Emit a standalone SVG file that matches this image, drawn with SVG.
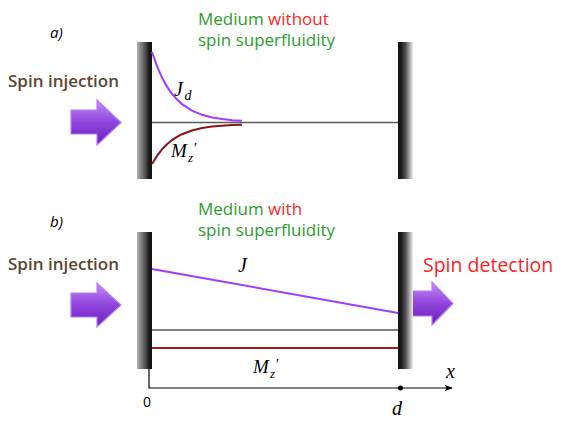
<svg xmlns="http://www.w3.org/2000/svg" width="582" height="441" viewBox="0 0 582 441">
<defs>
<linearGradient id="wallL" x1="0" y1="0" x2="1" y2="0">
<stop offset="0" stop-color="#b0b0b0"/><stop offset="0.55" stop-color="#505050"/><stop offset="0.8" stop-color="#1a1a1a"/><stop offset="1" stop-color="#111"/>
</linearGradient>
<linearGradient id="wallR" x1="0" y1="0" x2="1" y2="0">
<stop offset="0" stop-color="#111"/><stop offset="0.2" stop-color="#1a1a1a"/><stop offset="0.5" stop-color="#505050"/><stop offset="1" stop-color="#f0f0f0"/>
</linearGradient>
<linearGradient id="arr" x1="0" y1="0" x2="0" y2="1">
<stop offset="0" stop-color="#c28cf5"/><stop offset="0.5" stop-color="#8f45dd"/><stop offset="1" stop-color="#6a1fb8"/>
</linearGradient>
<marker id="ah" viewBox="0 0 10 10" refX="9" refY="5" markerWidth="8" markerHeight="8" markerUnits="userSpaceOnUse" orient="auto">
<path d="M0,1 L10,5 L0,9 L2,5 Z" fill="#000"/>
</marker>
</defs>
<style>
.sans{font-family:"Open Sans","Liberation Sans",sans-serif}
.green{fill:#2a9e2a}
.red{fill:#ff1f1f}
.inj{fill:#5b4631;font-weight:600;font-size:17px}
.math{font-family:"Liberation Serif","DejaVu Serif",serif;font-style:italic;fill:#000}
.arrow{fill:url(#arr);stroke:#b57cff;stroke-width:1.2}
.base{stroke:#5a5a5a;stroke-width:1.3;fill:none}
</style>

<g id="labels">
<text x="50" y="38" class="sans" font-size="15" font-style="italic">a)</text>
<text x="50" y="227" class="sans" font-size="15" font-style="italic">b)</text>
</g>

<g id="panel-a">
<g id="title-a" class="sans" font-size="17">
<text x="198" y="25"><tspan class="green">Medium </tspan><tspan class="red">without</tspan></text>
<text x="198" y="46" class="green">spin superfluidity</text>
</g>
<g id="inj-a">
<text x="8" y="87" class="sans inj">Spin injection</text>
<polygon class="arrow" points="71,110 97,110 97,100 121,122.5 97,145 97,134 71,134"/>
</g>
<g id="wall-a-left"><rect x="137" y="42" width="15" height="137" fill="url(#wallL)"/></g>
<g id="wall-a-right"><rect x="398" y="42" width="15" height="137" fill="url(#wallR)"/></g>
<g id="curves-a">
<line class="base" x1="152" y1="122.5" x2="398" y2="122.5"/>
<polyline fill="none" stroke="#a03cff" stroke-width="2" points="152,52 157,66.2 162,77.6 167,86.6 172,93.8 177,99.5 182,104.1 192,110.6 202,114.8 212,117.4 222,119.1 232,120.2 242,120.8"/>
<polyline fill="none" stroke="#8b1515" stroke-width="2" points="152,164 157,155.9 162,149.4 167,144.2 172,140.1 177,136.8 182,134.2 192,130.5 202,128.1 212,126.6 222,125.7 232,125.1 242,124.7"/>
<text x="174" y="96" class="math" font-size="20">J</text>
<text x="184.5" y="100" class="math" font-size="14">d</text>
<text x="171" y="157" class="math" font-size="19">M</text>
<text x="193" y="153" class="math" font-size="15">′</text>
<text x="188" y="162" class="math" font-size="13">z</text>
</g>
</g>

<g id="panel-b">
<g id="title-b" class="sans" font-size="17">
<text x="198" y="215"><tspan class="green">Medium </tspan><tspan class="red">with</tspan></text>
<text x="198" y="236" class="green">spin superfluidity</text>
</g>
<g id="inj-b">
<text x="8" y="270" class="sans inj">Spin injection</text>
<polygon class="arrow" points="71,293 97,293 97,283 121,305 97,327 97,317 71,317"/>
</g>
<g id="det-b">
<text x="423" y="272" class="sans red" font-size="19.5">Spin detection</text>
<polygon class="arrow" points="405,291 432,291 432,282 453,303.5 432,325 432,316 405,316"/>
</g>
<g id="wall-b-left"><rect x="137" y="232" width="15" height="137" fill="url(#wallL)"/></g>
<g id="wall-b-right"><rect x="398" y="232" width="15" height="137" fill="url(#wallR)"/></g>
<g id="curves-b">
<line x1="152" y1="269" x2="398" y2="313" stroke="#a03cff" stroke-width="2"/>
<line class="base" x1="152" y1="330" x2="398" y2="330"/>
<line x1="152" y1="348" x2="398" y2="348" stroke="#a01e1e" stroke-width="2"/>
<text x="238" y="272" class="math" font-size="20">J</text>
<text x="253" y="373" class="math" font-size="19">M</text>
<text x="275" y="369" class="math" font-size="15">′</text>
<text x="270" y="378" class="math" font-size="13">z</text>
</g>
<g id="axis">
<polyline points="149,369 149,388 452,388" fill="none" stroke="#000" stroke-width="1.2" marker-end="url(#ah)"/>
<circle cx="400.5" cy="388" r="2.5" fill="#000"/>
<text x="143" y="407" class="sans" font-size="14">0</text>
<text x="392" y="415" class="math" font-size="20">d</text>
<text x="446" y="378" class="math" font-size="20">x</text>
</g>
</g>
</svg>
